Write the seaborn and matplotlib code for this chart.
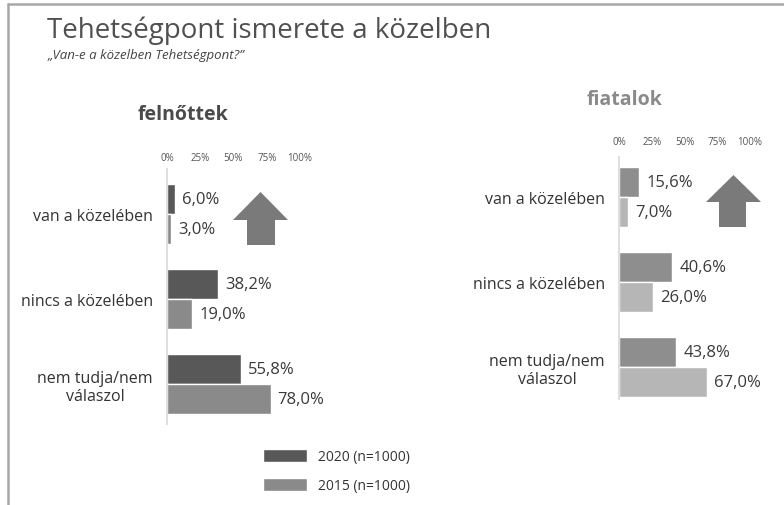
import seaborn as sns
import pandas as pd
import matplotlib.pyplot as plt
from matplotlib.patches import Polygon
from matplotlib.lines import Line2D

# data
categories = ['van a közelében', 'nincs a közelében', 'nem tudja/nem\nválaszol']
years = ['2020 (n=1000)', '2015 (n=1000)']
adults_2020 = [6.0, 38.2, 55.8]
adults_2015 = [3.0, 19.0, 78.0]
youth_2020 = [15.6, 40.6, 43.8]
youth_2015 = [7.0, 26.0, 67.0]
pct_ticks = [0, 25, 50, 75, 100]
pct_labels = ['0%', '25%', '50%', '75%', '100%']


def to_long(v2020, v2015):
    rows = []
    for cat, a, b in zip(categories, v2020, v2015):
        rows.append([cat, years[0], a])
        rows.append([cat, years[1], b])
    return pd.DataFrame(rows, columns=['Category', 'Year', 'Value'])


sns.set_theme(style='white')
plt.rcParams['font.family'] = ['Open Sans', 'DejaVu Sans']

W, H = 784, 506
fig = plt.figure(figsize=(W / 100, H / 100), dpi=100)


def fx(px):
    return px / W


def fy(py):
    return 1 - py / H


def draw_panel(rect, data, colors, ylim, tick_pad):
    ax = fig.add_axes(rect)
    sns.barplot(data=data, y='Category', x='Value', hue='Year', hue_order=years,
                palette=colors, width=0.71, orient='h', saturation=1,
                ax=ax, legend=True)
    ax.set_xlim(0, 100)
    ax.set_ylim(*ylim)
    for cont in ax.containers:
        labels = [f'{v:.1f}%'.replace('.', ',') for v in cont.datavalues]
        ax.bar_label(cont, labels=labels, padding=5, fontsize=12,
                     color='#3a3a3a', clip_on=False)
    ax.xaxis.tick_top()
    ax.set_xticks(pct_ticks)
    ax.set_xticklabels(pct_labels, fontsize=7, color='#555555')
    ax.tick_params(axis='x', length=0, pad=tick_pad)
    ax.tick_params(axis='y', length=0, pad=10, labelsize=11.5, labelcolor='#333333')
    for t in ax.get_yticklabels():
        t.set_multialignment('center')
    ax.set_xlabel('')
    ax.set_ylabel('')
    for s in ['top', 'right', 'bottom']:
        ax.spines[s].set_visible(False)
    ax.spines['left'].set_color('#d8d8d8')
    ax.spines['left'].set_linewidth(1.2)
    ax.set_facecolor('none')
    ax.grid(False)
    return ax


# felnőttek panel
ax1 = draw_panel([fx(167), fy(425), fx(300) - fx(167), fy(170) - fy(425)],
                 to_long(adults_2020, adults_2015), ['#585858', '#8a8a8a'],
                 (2.47, -0.53), 4)
handles, labels = ax1.get_legend_handles_labels()
ax1.get_legend().remove()

# fiatalok panel
ax2 = draw_panel([fx(619), fy(400), fx(750) - fx(619), fy(158) - fy(400)],
                 to_long(youth_2020, youth_2015), ['#8e8e8e', '#b6b6b6'],
                 (2.38, -0.47), 7)
ax2.get_legend().remove()

# legend
fig.legend(handles, labels, loc='upper left', bbox_to_anchor=(fx(256), fy(443)),
           frameon=False, fontsize=10, handlelength=3.2, handleheight=1.1,
           handletextpad=0.8, labelspacing=0.95, borderpad=0, labelcolor='#333333')

# titles
fig.text(fx(47), fy(31), 'Tehetségpont ismerete a közelben', fontsize=20,
         color='#505050', va='center', ha='left')
fig.text(fx(48), fy(55), '„Van-e a közelben Tehetségpont?”', fontsize=9.5,
         style='italic', color='#444444', va='center', ha='left')
fig.text(fx(183), fy(115), 'felnőttek', fontsize=14, fontweight='bold',
         color='#4a4a4a', va='center', ha='center')
fig.text(fx(625), fy(100), 'fiatalok', fontsize=14, fontweight='bold',
         color='#8a8a8a', va='center', ha='center')


# up arrows
def up_arrow(x0, x1, sx0, sx1, top, mid, bottom):
    pts = [(x0, mid), ((x0 + x1) / 2, top), (x1, mid), (sx1, mid),
           (sx1, bottom), (sx0, bottom), (sx0, mid)]
    fig.add_artist(Polygon([(fx(a), fy(b)) for a, b in pts], closed=True,
                           transform=fig.transFigure, facecolor='#7a7a7a',
                           edgecolor='none'))


up_arrow(233, 288, 247, 275, 193, 221, 246)
up_arrow(706, 761, 719, 746, 176, 203, 228)

# slide frame
fig.add_artist(Line2D([fx(8), 1], [fy(5), fy(5)], color='#a8a8a8', lw=1.8,
                      transform=fig.transFigure))
fig.add_artist(Line2D([fx(8), fx(8)], [fy(5), 0], color='#a8a8a8', lw=1.8,
                      transform=fig.transFigure))

fig.savefig('out.png', dpi=100, facecolor='white')
